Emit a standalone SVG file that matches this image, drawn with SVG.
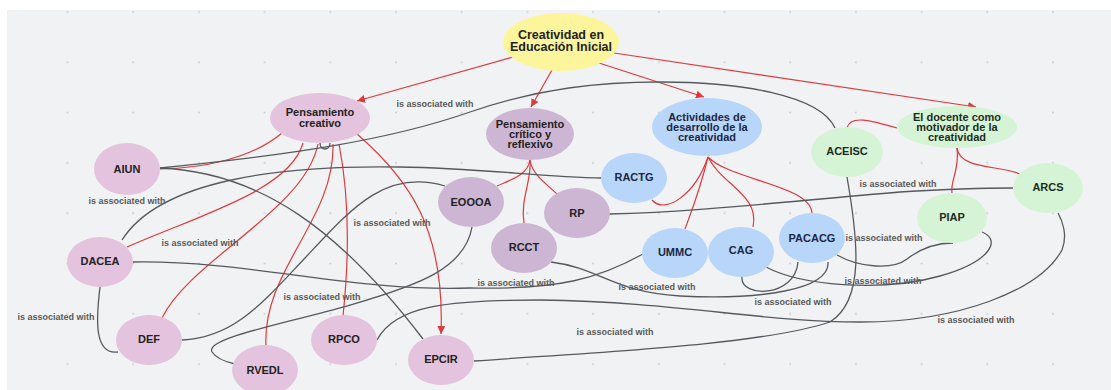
<svg xmlns="http://www.w3.org/2000/svg" width="1111" height="390" viewBox="0 0 1111 390">
<style>
text{font-family:"Liberation Sans",Arial,sans-serif;font-weight:bold;text-anchor:middle}
.n{font-size:11px;fill:#222}
.nb{font-size:11px;fill:#1c2744}
.ng{font-size:11px;fill:#1f2b1f}
.root{font-size:12.5px;fill:#222}
.lbl{font-size:9px;fill:#5a5a5a}
.red{fill:none;stroke:#e2383c;stroke-width:1.2}
.gry{fill:none;stroke:#55595d;stroke-width:1.3}
.pink{fill:#e3c3dd}
.purp{fill:#cdb6d4}
.blue{fill:#b7d6fa}
.green{fill:#d5f4d5}
.yel{fill:#fdf59b}
</style>
<defs>
<marker id="arr" viewBox="0 0 8 8" refX="8" refY="4" markerWidth="8" markerHeight="8" markerUnits="userSpaceOnUse" orient="auto"><path d="M0,0 L8,4 L0,8 z" fill="#e2383c"/></marker>
<pattern id="dots" patternUnits="userSpaceOnUse" x="34.65" y="-13.15" width="65.7" height="50.3"><circle cx="32.85" cy="25.15" r="0.9" fill="#c4c6c9"/></pattern>
</defs>
<rect x="0" y="0" width="1111" height="390" fill="#ffffff"/>
<rect x="7" y="10" width="1104" height="380" fill="#f1f2f4"/>
<rect x="7" y="10" width="1104" height="380" fill="url(#dots)"/>

<g id="connectors">
<path class="red" d="M513,57 L357,101" marker-end="url(#arr)"/>
<path class="red" d="M552,70 L531,107" marker-end="url(#arr)"/>
<path class="red" d="M599,63 L704,97" marker-end="url(#arr)"/>
<path class="red" d="M614,53 L976,107" marker-end="url(#arr)"/>
<path class="red" d="M357,134 C410,180 445,230 441,334" marker-end="url(#arr)"/>
<path class="red" d="M282,133 C250,160 200,168 160,169"/>
<path class="red" d="M303,143 C290,190 200,215 127,247"/>
<path class="red" d="M318,144 C305,210 190,260 162,318"/>
<path class="red" d="M333,144 C335,220 262,270 266,346"/>
<path class="red" d="M339,144 C348,190 350,250 343,316"/>
<path class="red" d="M530,160 C528,175 510,180 497,186"/>
<path class="red" d="M530,160 C532,175 548,185 557,194"/>
<path class="red" d="M530,160 C532,180 520,200 524,223"/>
<path class="red" d="M708,157 C695,195 665,215 652,200"/>
<path class="red" d="M708,157 C700,190 692,210 685,229"/>
<path class="red" d="M708,157 C722,185 760,195 753,227"/>
<path class="red" d="M708,157 C730,180 810,185 812,213"/>
<path class="red" d="M897,128 C870,120 850,115 847,128"/>
<path class="red" d="M957,148 C960,170 950,180 952,193"/>
<path class="red" d="M957,148 C960,170 1000,165 1020,174"/>

<path class="gry" d="M160,168 C290,155 390,140 470,112 C540,88 600,82 660,82 C740,82 820,95 835,128"/>
<path class="gry" d="M160,168 C260,172 340,230 423,339"/>
<path class="gry" d="M122,240 C160,180 280,165 400,167 C480,168 540,177 602,178"/>
<path class="gry" d="M133,262 C250,260 350,292 470,288 C560,290 600,278 643,254"/>
<path class="gry" d="M182,340 C235,338 265,300 305,258 C350,210 385,168 445,186"/>
<path class="gry" d="M472,227 C465,268 420,285 350,305 C280,325 205,338 212,352 C216,358 226,362 235,364"/>
<path class="gry" d="M377,340 C395,305 450,300 540,300 C680,302 760,322 860,322 C960,322 1040,290 1062,250 C1068,235 1062,220 1058,213"/>
<path class="gry" d="M474,361 C600,352 760,345 830,322 C865,300 858,240 847,177"/>
<path class="gry" d="M551,262 C600,268 612,292 680,296 C760,300 830,290 828,262"/>
<path class="gry" d="M742,277 C740,298 795,298 798,262"/>
<path class="gry" d="M766,267 C800,285 880,293 940,276 C990,262 1002,240 982,232"/>
<path class="gry" d="M837,255 C860,268 893,270 907,259 C920,249 935,243 953,243"/>
<path class="gry" d="M609,214 C700,212 800,200 900,192 C950,189 990,188 1013,188"/>
<path class="gry" d="M100,287 C96,320 94,355 118,352"/>
<path class="gry" d="M320,143 C320,151 330,151 330,143"/>

<text class="lbl" x="435" y="107">is associated with</text>
<text class="lbl" x="127" y="204">is associated with</text>
<text class="lbl" x="200" y="246">is associated with</text>
<text class="lbl" x="392" y="226">is associated with</text>
<text class="lbl" x="322" y="300">is associated with</text>
<text class="lbl" x="56" y="320">is associated with</text>
<text class="lbl" x="516" y="286">is associated with</text>
<text class="lbl" x="657" y="290">is associated with</text>
<text class="lbl" x="615" y="335">is associated with</text>
<text class="lbl" x="793" y="305">is associated with</text>
<text class="lbl" x="883" y="284">is associated with</text>
<text class="lbl" x="884" y="241">is associated with</text>
<text class="lbl" x="898" y="187">is associated with</text>
<text class="lbl" x="976" y="323">is associated with</text>
</g>

<g id="root"><ellipse class="yel" cx="561" cy="42" rx="58" ry="29"/><text class="root" x="561" y="38.5">Creatividad en</text><text class="root" x="561" y="50.5">Educación Inicial</text></g>
<g id="pensamiento-creativo"><ellipse class="pink" cx="320" cy="118" rx="50" ry="25"/><text class="n" x="320" y="116">Pensamiento</text><text class="n" x="320" y="126.5">creativo</text></g>
<g id="pensamiento-critico"><ellipse class="purp" cx="530" cy="134" rx="44" ry="26"/><text class="n" x="530" y="128">Pensamiento</text><text class="n" x="530" y="138">crítico y</text><text class="n" x="530" y="148">reflexivo</text></g>
<g id="actividades"><ellipse class="blue" cx="707" cy="127" rx="55" ry="29"/><text class="nb" x="707" y="121">Actividades de</text><text class="nb" x="707" y="131">desarrollo de la</text><text class="nb" x="707" y="141">creatividad</text></g>
<g id="docente"><ellipse class="green" cx="957" cy="127" rx="60" ry="21"/><text class="ng" x="957" y="121">El docente como</text><text class="ng" x="957" y="131">motivador de la</text><text class="ng" x="957" y="141">creatividad</text></g>
<g id="ACEISC"><ellipse class="green" cx="847" cy="152" rx="36" ry="25"/><text class="ng" x="847" y="155">ACEISC</text></g>
<g id="ARCS"><ellipse class="green" cx="1048" cy="188" rx="35" ry="25"/><text class="ng" x="1048" y="191">ARCS</text></g>
<g id="PIAP"><ellipse class="green" cx="952" cy="218" rx="35" ry="25"/><text class="ng" x="952" y="221">PIAP</text></g>
<g id="AIUN"><ellipse class="pink" cx="127" cy="169" rx="33" ry="26"/><text class="n" x="127" y="172.5">AIUN</text></g>
<g id="DACEA"><ellipse class="pink" cx="100" cy="262" rx="33" ry="25"/><text class="n" x="100" y="265">DACEA</text></g>
<g id="DEF"><ellipse class="pink" cx="149" cy="340" rx="33" ry="25"/><text class="n" x="149" y="343">DEF</text></g>
<g id="RVEDL"><ellipse class="pink" cx="265" cy="370" rx="33" ry="25"/><text class="n" x="265" y="373.5">RVEDL</text></g>
<g id="RPCO"><ellipse class="pink" cx="344" cy="340" rx="33" ry="25"/><text class="n" x="344" y="343">RPCO</text></g>
<g id="EPCIR"><ellipse class="pink" cx="441" cy="360" rx="33" ry="25"/><text class="n" x="441" y="363">EPCIR</text></g>
<g id="EOOOA"><ellipse class="purp" cx="471" cy="202" rx="33" ry="25"/><text class="n" x="471" y="205.5">EOOOA</text></g>
<g id="RP"><ellipse class="purp" cx="577" cy="213" rx="33" ry="25"/><text class="n" x="577" y="216.5">RP</text></g>
<g id="RCCT"><ellipse class="purp" cx="524" cy="248" rx="33" ry="25"/><text class="n" x="524" y="251">RCCT</text></g>
<g id="RACTG"><ellipse class="blue" cx="634" cy="178" rx="33" ry="25"/><text class="nb" x="634" y="181">RACTG</text></g>
<g id="UMMC"><ellipse class="blue" cx="675" cy="253" rx="33" ry="25"/><text class="nb" x="675" y="256">UMMC</text></g>
<g id="CAG"><ellipse class="blue" cx="741" cy="252" rx="33" ry="25"/><text class="nb" x="741" y="253.5">CAG</text></g>
<g id="PACACG"><ellipse class="blue" cx="812" cy="238" rx="33" ry="25"/><text class="nb" x="812" y="241.5">PACACG</text></g>
</svg>
